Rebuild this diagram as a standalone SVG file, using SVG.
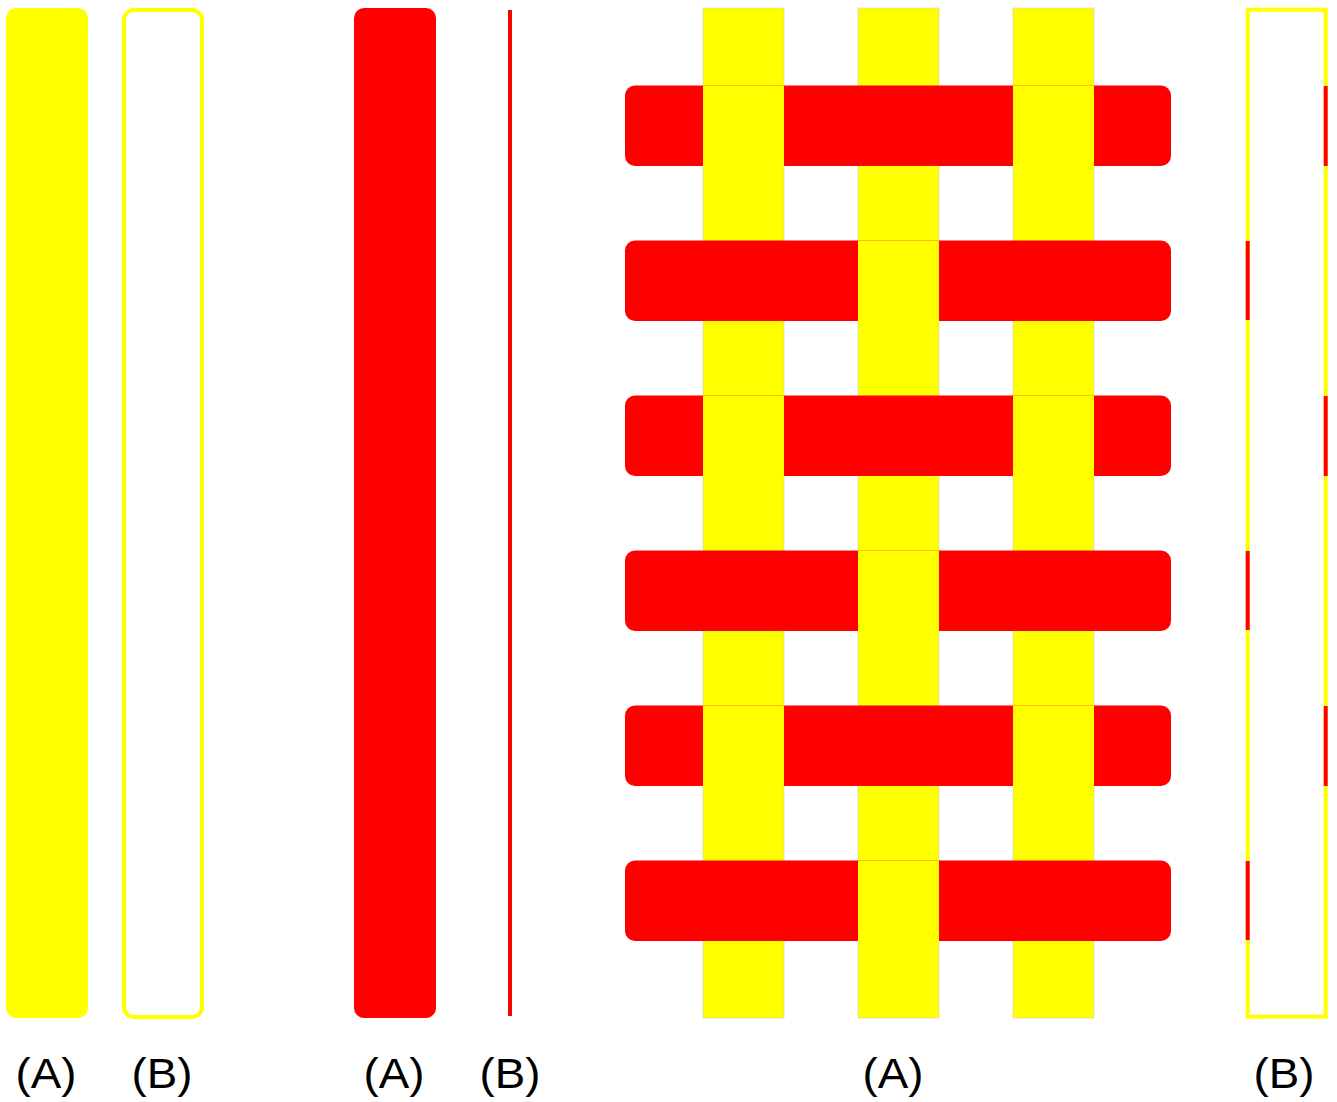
<svg xmlns="http://www.w3.org/2000/svg" width="1337" height="1102" viewBox="0 0 1337 1102">
<style>
.y{fill:#ffff00}
.r{fill:#ff0000}
.col{fill:#ffff00;stroke:#d0d0c0;stroke-width:0.6}
.patch{fill:#ffff00}
.yo{fill:none;stroke:#ffff00;stroke-width:4}
.lbl{font-family:"Liberation Sans",Arial,sans-serif;font-size:42px;fill:#000;text-anchor:middle}
</style>
<rect width="1337" height="1102" fill="#ffffff"/>
<g id="yellowA"><rect class="y" x="6" y="8" width="82" height="1010" rx="10"/></g>
<g id="yellowB"><rect class="yo" x="124" y="10" width="78" height="1007" rx="10"/></g>
<g id="redA"><rect class="r" x="354" y="8" width="82" height="1010" rx="10"/></g>
<g id="redB"><line x1="510" y1="10" x2="510" y2="1016" stroke="#ff0000" stroke-width="4"/></g>
<g id="weave">
<rect class="col" x="703" y="8" width="81" height="1010"/>
<rect class="col" x="858" y="8" width="81" height="1010"/>
<rect class="col" x="1013" y="8" width="81" height="1010"/>
<rect class="r" x="625" y="85.5" width="546" height="80.5" rx="10"/>
<rect class="r" x="625" y="240.5" width="546" height="80.5" rx="10"/>
<rect class="r" x="625" y="395.5" width="546" height="80.5" rx="10"/>
<rect class="r" x="625" y="550.5" width="546" height="80.5" rx="10"/>
<rect class="r" x="625" y="705.5" width="546" height="80.5" rx="10"/>
<rect class="r" x="625" y="860.5" width="546" height="80.5" rx="10"/>
<rect class="patch" x="703" y="85.5" width="81" height="80.5"/>
<rect class="patch" x="1013" y="85.5" width="81" height="80.5"/>
<rect class="patch" x="858" y="240.5" width="81" height="80.5"/>
<rect class="patch" x="703" y="395.5" width="81" height="80.5"/>
<rect class="patch" x="1013" y="395.5" width="81" height="80.5"/>
<rect class="patch" x="858" y="550.5" width="81" height="80.5"/>
<rect class="patch" x="703" y="705.5" width="81" height="80.5"/>
<rect class="patch" x="1013" y="705.5" width="81" height="80.5"/>
<rect class="patch" x="858" y="860.5" width="81" height="80.5"/>
</g>
<g id="weaveB">
<rect class="yo" x="1247.7" y="9.7" width="78" height="1007"/>
<g stroke="#ff0000" stroke-width="4">
<line x1="1325.7" y1="86" x2="1325.7" y2="166"/>
<line x1="1247.7" y1="241" x2="1247.7" y2="320"/>
<line x1="1325.7" y1="396" x2="1325.7" y2="476"/>
<line x1="1247.7" y1="551" x2="1247.7" y2="630"/>
<line x1="1325.7" y1="706" x2="1325.7" y2="786"/>
<line x1="1247.7" y1="861" x2="1247.7" y2="940"/>
</g>
</g>
<g id="labels">
<text class="lbl" x="46" y="1088" textLength="61" lengthAdjust="spacingAndGlyphs">(A)</text>
<text class="lbl" x="162" y="1088" textLength="61" lengthAdjust="spacingAndGlyphs">(B)</text>
<text class="lbl" x="394" y="1088" textLength="61" lengthAdjust="spacingAndGlyphs">(A)</text>
<text class="lbl" x="510" y="1088" textLength="61" lengthAdjust="spacingAndGlyphs">(B)</text>
<text class="lbl" x="893" y="1088" textLength="61" lengthAdjust="spacingAndGlyphs">(A)</text>
<text class="lbl" x="1284" y="1088" textLength="61" lengthAdjust="spacingAndGlyphs">(B)</text>
</g>
</svg>
